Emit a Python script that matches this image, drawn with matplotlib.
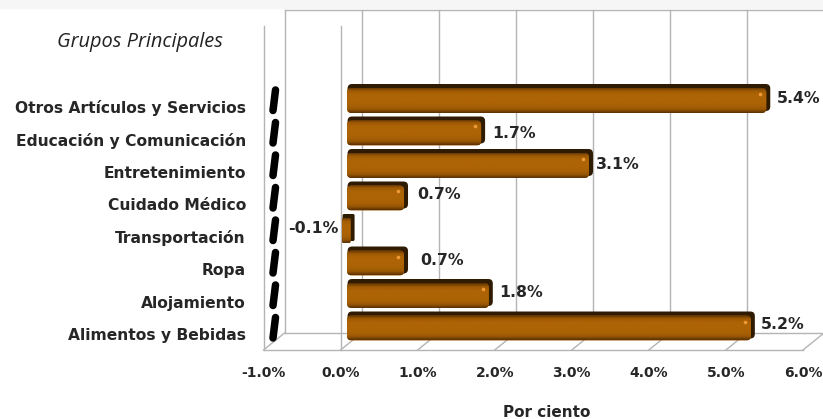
import numpy as np
import matplotlib
matplotlib.use('Agg')
import matplotlib.pyplot as plt
from matplotlib.colors import LinearSegmentedColormap
from matplotlib.patches import FancyBboxPatch, Rectangle
from matplotlib.transforms import Affine2D

categories = ['Otros Artículos y Servicios', 'Educación y Comunicación', 'Entretenimiento',
              'Cuidado Médico', 'Transportación', 'Ropa', 'Alojamiento', 'Alimentos y Bebidas']
values = [5.4, 1.7, 3.1, 0.7, -0.1, 0.7, 1.8, 5.2]
value_labels = ['5.4%', '1.7%', '3.1%', '0.7%', '-0.1%', '0.7%', '1.8%', '5.2%']
x_ticks = [-1, 0, 1, 2, 3, 4, 5, 6]
x_tick_labels = ['-1.0%', '0.0%', '1.0%', '2.0%', '3.0%', '4.0%', '5.0%', '6.0%']

W, H = 823, 419
# pixel layout of the front plane
left, right = 263.5, 803.0
front_top, front_bottom = 26.0, 350.0
row_top, row_step = 100.5, 32.5
depth_x, depth_y = 21, 17
px_x = (right - left) / 7
txtc = '#262626'
grid = '#b4b4b4'

fig = plt.figure(figsize=(W / 100, H / 100), dpi=100)
ax = fig.add_axes([left / W, 1 - front_bottom / H, (right - left) / W, (front_bottom - front_top) / H])
ax.set_xlim(-1, 6)
ax.set_ylim((row_top + 7 * row_step - front_bottom) / row_step, 7 + (row_top - front_top) / row_step)
ax.axis('off')

ypos = np.arange(len(values))[::-1]
y0 = ax.get_ylim()[0]
y1 = ax.get_ylim()[1]
ux = 1 / px_x
uy = 1 / row_step
back = ax.transData + Affine2D().translate(depth_x, depth_y)


def line(xs, ys, tr=None, c=grid, lw=1.0, z=1):
    ax.plot(xs, ys, color=c, lw=lw, transform=tr or ax.transData, clip_on=False, zorder=z)


# faint band at the very top of the picture
fig.patches.append(Rectangle((0, 1 - 8 / H), 1, 8 / H, transform=fig.transFigure, color='#f6f6f6', zorder=0))

# walls and floor
top_back = y1 + (front_top - 10 - depth_y) * uy
line([-1, -1], [y0, y1])
line([0, 0], [y0, y1])
line([-1, 6], [y0, y0])
line([-1, 6.05], [y0, y0], back)
line([-1, -1], [y0, top_back], back)
line([-1, 6.05], [top_back, top_back], back)
for t in x_ticks:
    line([t, t + depth_x * ux], [y0, y0 + depth_y * uy])
    if t >= 0 and t < 6:
        line([t, t], [y0, top_back], back)

gcm = LinearSegmentedColormap.from_list('bar', ['#5a3102', '#9a5804', '#a96105', '#ad6406', '#ad6406',
                                                '#ad6406', '#a05a04', '#5a3102'])
grad = np.linspace(0, 1, 64).reshape(-1, 1)
start = 6.5 * ux
bar_h = 25 * uy
r = 4.5 * ux
aspect = px_x / row_step

for v, y in zip(values, ypos):
    # black stub at the floor of the axis
    ax.plot([-1 + 9.5 * ux, -1 + 12 * ux], [y - 10 * uy, y + 10.5 * uy], color='black', lw=5.4,
            solid_capstyle='round', zorder=3)
    if v >= 0:
        xa, xb = start, start + v + 3 * ux
    else:
        xa, xb = 1.5 * ux, 10 * ux
    rr = r if v >= 0 else 1.5 * ux
    # dark top and end of the bar
    shadow = FancyBboxPatch((xa + 0.5 * ux, y - bar_h / 2 + 2 * uy), xb - xa + 3.5 * ux, bar_h + 2 * uy,
                            boxstyle='round,pad=0,rounding_size=%f' % rr, mutation_aspect=aspect,
                            fc='#2f1a02', ec='none', zorder=4)
    ax.add_patch(shadow)
    face = FancyBboxPatch((xa, y - bar_h / 2), xb - xa, bar_h,
                          boxstyle='round,pad=0,rounding_size=%f' % rr, mutation_aspect=aspect,
                          fc='#a05a04', ec='none', zorder=5)
    ax.add_patch(face)
    im = ax.imshow(grad, cmap=gcm, aspect='auto', origin='lower', zorder=6,
                   extent=(xa, xb + 1 * ux, y - bar_h / 2, y + bar_h / 2))
    im.set_clip_path(face)
    if v > 0:
        ax.plot([xb - 6 * ux], [y + 6.5 * uy], 'o', ms=2.6, color='#f09a35', mec='none', zorder=7)

ax.set_xlim(-1, 6)
ax.set_ylim(y0, y1)

# label offsets in pixels from the end of each bar
nudges = [(14, 2), (14, -1), (10, 1), (16, 4), (-59, 2), (19, 3), (13, 3), (13, 4)]
label_size = 11.3
for v, y, s, n in zip(values, ypos, value_labels, nudges):
    ax.annotate(s, xy=(start + max(v, 0), y), xytext=(n[0] * 0.72, n[1] * 0.72), textcoords='offset points',
                ha='left', va='center', fontsize=label_size, fontweight='bold', color=txtc, zorder=8,
                annotation_clip=False, family='DejaVu Sans')

for c, y in zip(categories, ypos):
    fig.text(246 / W, 1 - (row_top + 7.5 + (7 - y) * row_step) / H, c, ha='right', va='center',
             fontsize=11.2, fontweight='bold', color=txtc)
for t, s in zip(x_ticks, x_tick_labels):
    ax.text(t, y0 - 23 * uy, s, ha='center', va='center', fontsize=10, fontweight='bold',
            color=txtc, clip_on=False)

fig.text(547 / W, 1 - 412 / H, 'Por ciento', ha='center', va='center', fontsize=11,
         fontweight='bold', color=txtc)
fig.text(139.5 / W, 1 - 42 / H, 'Grupos Principales', ha='center', va='center', fontsize=14.4,
         style='italic', family='Open Sans', color='#222222')

fig.savefig('out.png', dpi=100)
